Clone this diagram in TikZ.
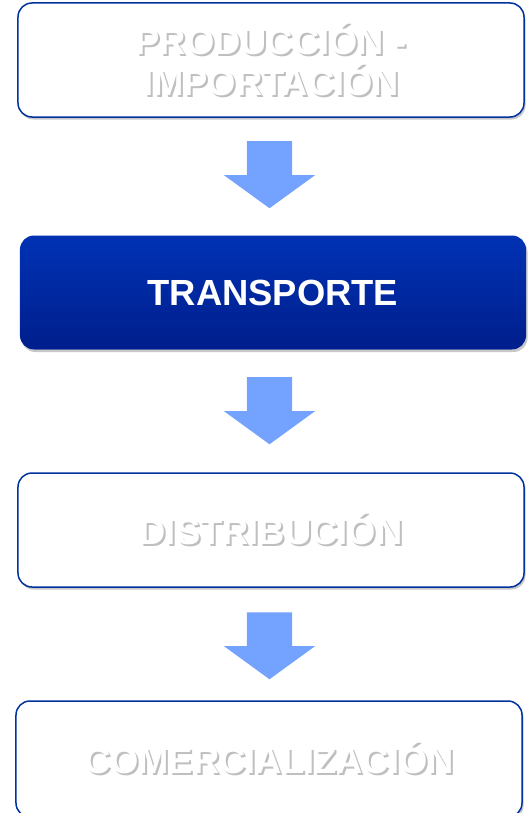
\documentclass[tikz,border=0pt]{standalone}
\usepackage{fontspec}
\setmainfont{Liberation Sans}
\usetikzlibrary{
    shapes.arrows,
    positioning,
    calc,
    shadows
}
\definecolor{stageblue}{RGB}{0, 51, 160}
\definecolor{activetop}{RGB}{0, 50, 180}
\definecolor{activebot}{RGB}{0, 30, 140}
\definecolor{flowblue}{RGB}{115, 162, 255}
\newcommand{\softtext}[1]{\rlap{\hspace{2bp}\raisebox{-2bp}{\textcolor{black!25}{#1}}}#1}

\begin{document}
\begin{tikzpicture}[
        x=1bp, y=-1bp,
        stage/.style={rectangle, draw=stageblue, line width=1.5bp, rounded corners=14bp, fill=white,
            minimum width=506bp, minimum height=114bp, align=center, text=white,
            font=\fontsize{36.5}{41}\selectfont\bfseries,
            drop shadow={shadow xshift=1.5bp, shadow yshift=-2.5bp, opacity=0.22, fill=black}},
        active/.style={stage, draw=none, top color=activetop, bottom color=activebot},
        flow/.style={single arrow, draw=none, fill=flowblue, rotate=-90, inner xsep=0pt, inner ysep=22.5bp,
            minimum height=67bp, minimum width=91bp, single arrow head extend=23bp,
            single arrow tip angle=108}
    ]
        \useasboundingbox (0,0) rectangle (531,813);

        % Stages
        \node[stage] (prod) at (271,60) {\softtext{PRODUCCIÓN -}\\\softtext{IMPORTACIÓN}};
        \node[active] (trans) at (273,292.5) {TRANSPORTE};
        \node[stage] (dist) at (271,530) {\softtext{DISTRIBUCIÓN}};
        \node[stage, minimum height=116bp] (comer) at (269,759) {\softtext{COMERCIALIZACIÓN}};

        % Flow arrows between stages
        \node[flow] (flowa) at (269.5,166.5) {};
        \node[flow] (flowb) at (269.5,402.5) {};
        \node[flow] (flowc) at (269.5,637.5) {};
    \end{tikzpicture}
\end{document}
